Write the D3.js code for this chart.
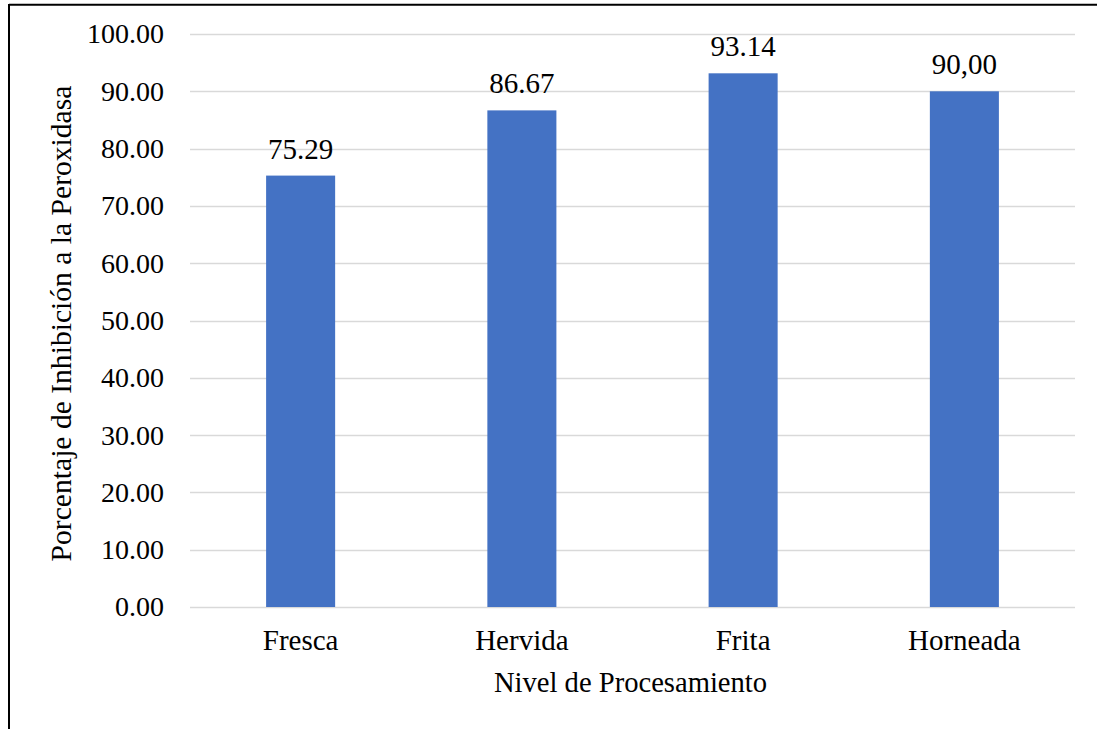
<!DOCTYPE html>
<html>
<head>
<meta charset="utf-8">
<script src="https://cdn.jsdelivr.net/npm/d3@7"></script>
<style>
  html, body { margin: 0; padding: 0; background: #fff; }
  svg { display: block; }
  text { font-family: "Liberation Serif", "Times New Roman", serif; fill: #000; }
</style>
</head>
<body>
<script>
// Processing levels and peroxidase inhibition (%)
const categories = ["Fresca", "Hervida", "Frita", "Horneada"];
const values = [75.29, 86.67, 93.14, 90.00];
const valueLabels = ["75.29", "86.67", "93.14", "90,00"];
const yTicks = [0, 10, 20, 30, 40, 50, 60, 70, 80, 90, 100];

const W = 1097, H = 729;
const plot = { left: 190, right: 1075, top: 34, bottom: 607 };

const svg = d3.select("body").append("svg")
  .attr("width", W).attr("height", H);

// Frame (top and left edges)
svg.append("path")
  .attr("d", `M9,4.7H${W}M9,4V${H}`)
  .attr("fill", "none").attr("stroke", "#000").attr("stroke-width", 2);

const x = d3.scaleBand().domain(categories)
  .range([plot.left, plot.right]).paddingInner(0.688).paddingOuter(0.344);
const y = d3.scaleLinear().domain([0, 100]).range([plot.bottom, plot.top]);

// Horizontal gridlines
svg.append("g").selectAll("line").data(yTicks).join("line")
  .attr("x1", plot.left).attr("x2", plot.right)
  .attr("y1", d => Math.round(y(d)) + 0.5).attr("y2", d => Math.round(y(d)) + 0.5)
  .attr("stroke", "#D9D9D9").attr("stroke-width", 1.3);

// Y axis tick labels
const yAxis = d3.axisLeft(y).tickValues(yTicks)
  .tickFormat(d3.format(".2f")).tickSize(0).tickPadding(26);
const gy = svg.append("g").attr("transform", `translate(${plot.left},0)`).call(yAxis);
gy.select(".domain").remove();
gy.selectAll("text")
  .style("font-family", '"Liberation Serif", "Times New Roman", serif')
  .style("font-size", "28px").attr("fill", "#000");

// X axis category labels
const xAxis = d3.axisBottom(x).tickSize(0).tickPadding(22);
const gx = svg.append("g").attr("transform", `translate(0,${plot.bottom})`).call(xAxis);
gx.select(".domain").remove();
gx.selectAll("text")
  .style("font-family", '"Liberation Serif", "Times New Roman", serif')
  .style("font-size", "29px").attr("fill", "#000");

// Bars
svg.append("g").selectAll("rect").data(values).join("rect")
  .attr("x", (d, i) => x(categories[i]))
  .attr("width", x.bandwidth())
  .attr("y", d => y(d))
  .attr("height", d => y(0) - y(d))
  .attr("fill", "#4472C4");

// Value labels
svg.append("g").selectAll("text").data(values).join("text")
  .attr("x", (d, i) => x(categories[i]) + x.bandwidth() / 2)
  .attr("y", d => y(d) - 17)
  .attr("text-anchor", "middle")
  .style("font-size", "29px")
  .text((d, i) => valueLabels[i]);

// Axis titles
svg.append("text")
  .attr("x", (plot.left + plot.right) / 2 - 2).attr("y", 692)
  .attr("text-anchor", "middle").style("font-size", "28.6px")
  .text("Nivel de Procesamiento");

svg.append("text")
  .attr("transform", `translate(71,${(plot.top + plot.bottom) / 2 + 3}) rotate(-90)`)
  .attr("text-anchor", "middle").style("font-size", "29.6px")
  .text("Porcentaje de Inhibición a la Peroxidasa");
</script>
</body>
</html>
